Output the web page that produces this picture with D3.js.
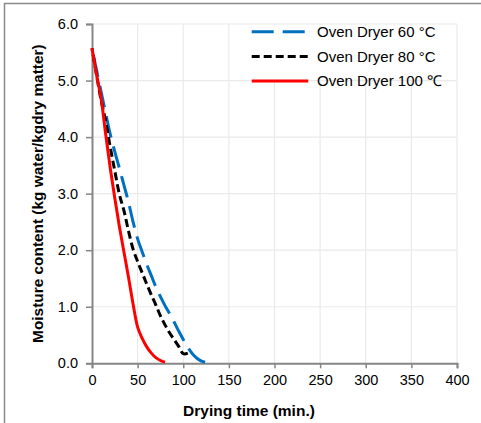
<!DOCTYPE html>
<html>
<head>
<meta charset="utf-8">
<script src="https://cdn.jsdelivr.net/npm/d3@7"></script>
<style>
  html, body { margin: 0; padding: 0; background: #fff; }
  svg { display: block; }
  text { font-family: "Liberation Sans", Arial, sans-serif; fill: #000; }
</style>
</head>
<body>
<svg id="chart" width="481" height="423"></svg>
<script>
// Drying time (min.) sampled every 5 minutes
const time60 = [0, 5, 10, 15, 20, 25, 30, 35, 40, 45, 50, 55, 60, 65, 70, 75, 80, 85, 90, 95, 100, 105, 110, 115, 120, 124];
const time80 = [0, 5, 10, 15, 20, 25, 30, 35, 40, 45, 50, 55, 60, 65, 70, 75, 80, 85, 90, 95, 100, 105];
const time100 = [0, 5, 10, 15, 20, 25, 30, 35, 40, 45, 50, 55, 60, 65, 70, 75, 80];

// Moisture content (kg water / kg dry matter)
const moisture60 = [5.57, 5.18, 4.8, 4.42, 4.05, 3.74, 3.45, 3.15, 2.85, 2.5, 2.2, 1.97, 1.75, 1.55, 1.35, 1.18, 1.02, 0.88, 0.73, 0.57, 0.42, 0.28, 0.17, 0.09, 0.04, 0.02];
const moisture80 = [5.57, 5.1, 4.65, 4.28, 3.82, 3.4, 2.99, 2.7, 2.34, 2.02, 1.8, 1.6, 1.4, 1.21, 1.03, 0.84, 0.68, 0.54, 0.42, 0.3, 0.17, 0.18];
const moisture100 = [5.57, 5.1, 4.68, 4.05, 3.45, 2.92, 2.42, 1.97, 1.52, 1.05, 0.64, 0.44, 0.29, 0.18, 0.1, 0.05, 0.02];

const seriesNames = ["Oven Dryer 60 °C", "Oven Dryer 80 °C", "Oven Dryer 100 ℃"];
const xTicks = [0, 50, 100, 150, 200, 250, 300, 350, 400];
const yTicks = [0, 1, 2, 3, 4, 5, 6];
const xTitle = "Drying time (min.)";
const yTitle = "Moisture content (kg water/kgdry matter)";

const series = [
  { name: seriesNames[0], t: time60, m: moisture60, color: "#0070C0", dash: [22, 9] },
  { name: seriesNames[1], t: time80, m: moisture80, color: "#000000", dash: [8, 4] },
  { name: seriesNames[2], t: time100, m: moisture100, color: "#FF0000", dash: null }
];

const svg = d3.select("#chart");
const x = d3.scaleLinear().domain([0, 400]).range([92, 457]);
const y = d3.scaleLinear().domain([0, 6]).range([363.3, 24]);

// outer chart frame
svg.append("rect")
  .attr("x", 4.5).attr("y", 3.5).attr("width", 490).attr("height", 440)
  .attr("fill", "none").attr("stroke", "#898989").attr("stroke-width", 1.5);

// gridlines
const grid = svg.append("g").attr("stroke", "#EAEAEA").attr("stroke-width", 1.2);
grid.selectAll(".gx").data(xTicks.filter(d => d > 0)).join("line")
  .attr("x1", d => x(d)).attr("x2", d => x(d))
  .attr("y1", y(6)).attr("y2", y(0));
grid.selectAll(".gy").data(yTicks.filter(d => d > 0)).join("line")
  .attr("x1", x(0)).attr("x2", x(400))
  .attr("y1", d => y(d)).attr("y2", d => y(d));

// legend backdrop
svg.append("rect")
  .attr("x", 245).attr("y", 25.5).attr("width", 210).attr("height", 54)
  .attr("fill", "#fff");

// axes
const xAxis = d3.axisBottom(x).tickValues(xTicks).tickSize(5).tickPadding(6).tickFormat(d3.format("d"));
const yAxis = d3.axisLeft(y).tickValues(yTicks).tickSize(6).tickPadding(8).tickFormat(d3.format(".1f"));

const gx = svg.append("g").attr("transform", `translate(0,${y(0)})`).call(xAxis);
const gy = svg.append("g").attr("transform", `translate(${x(0)},0)`).call(yAxis);
[gx, gy].forEach(g => {
  g.select(".domain").attr("stroke", "#868686").attr("stroke-width", 2);
  g.selectAll(".tick line").attr("stroke", "#868686").attr("stroke-width", 1.5);
  g.selectAll(".tick text").attr("font-size", 14.5).attr("font-family", "Liberation Sans, Arial, sans-serif").attr("fill", "#000");
});

// curves
const line = d3.line()
  .x(d => x(d[0])).y(d => y(d[1]))
  .curve(d3.curveCatmullRom.alpha(0.5));

series.forEach(s => {
  const p = svg.append("path")
    .datum(s.t.map((t, i) => [t, s.m[i]]))
    .attr("d", line)
    .attr("fill", "none")
    .attr("stroke", s.color)
    .attr("stroke-width", 3);
  if (s.dash) {
    // shift the dash pattern so the curve finishes on a dash
    const L = p.node().getTotalLength();
    const period = s.dash[0] + s.dash[1];
    p.attr("stroke-dasharray", s.dash.join(","))
     .attr("stroke-dashoffset", s.dash[0] - (L % period));
  }
});

// legend
const legend = svg.append("g");
series.forEach((s, i) => {
  const ly = 31.7 + i * 24.7;
  legend.append("line")
    .attr("x1", 251.7).attr("x2", 308.3).attr("y1", ly).attr("y2", ly)
    .attr("stroke", s.color).attr("stroke-width", 3)
    .attr("stroke-dasharray", s.dash ? s.dash.join(",") : null);
  legend.append("text")
    .attr("x", 317).attr("y", ly).attr("dy", "0.35em")
    .attr("font-size", 15)
    .text(s.name);
});

// axis titles
svg.append("text")
  .attr("x", 249).attr("y", 416)
  .attr("text-anchor", "middle")
  .attr("font-size", 15.5).attr("font-weight", "bold")
  .text(xTitle);

svg.append("text")
  .attr("transform", `translate(43,${(y(0) + y(6)) / 2}) rotate(-90)`)
  .attr("text-anchor", "middle")
  .attr("font-size", 15.4).attr("font-weight", "bold")
  .text(yTitle);
</script>
</body>
</html>
